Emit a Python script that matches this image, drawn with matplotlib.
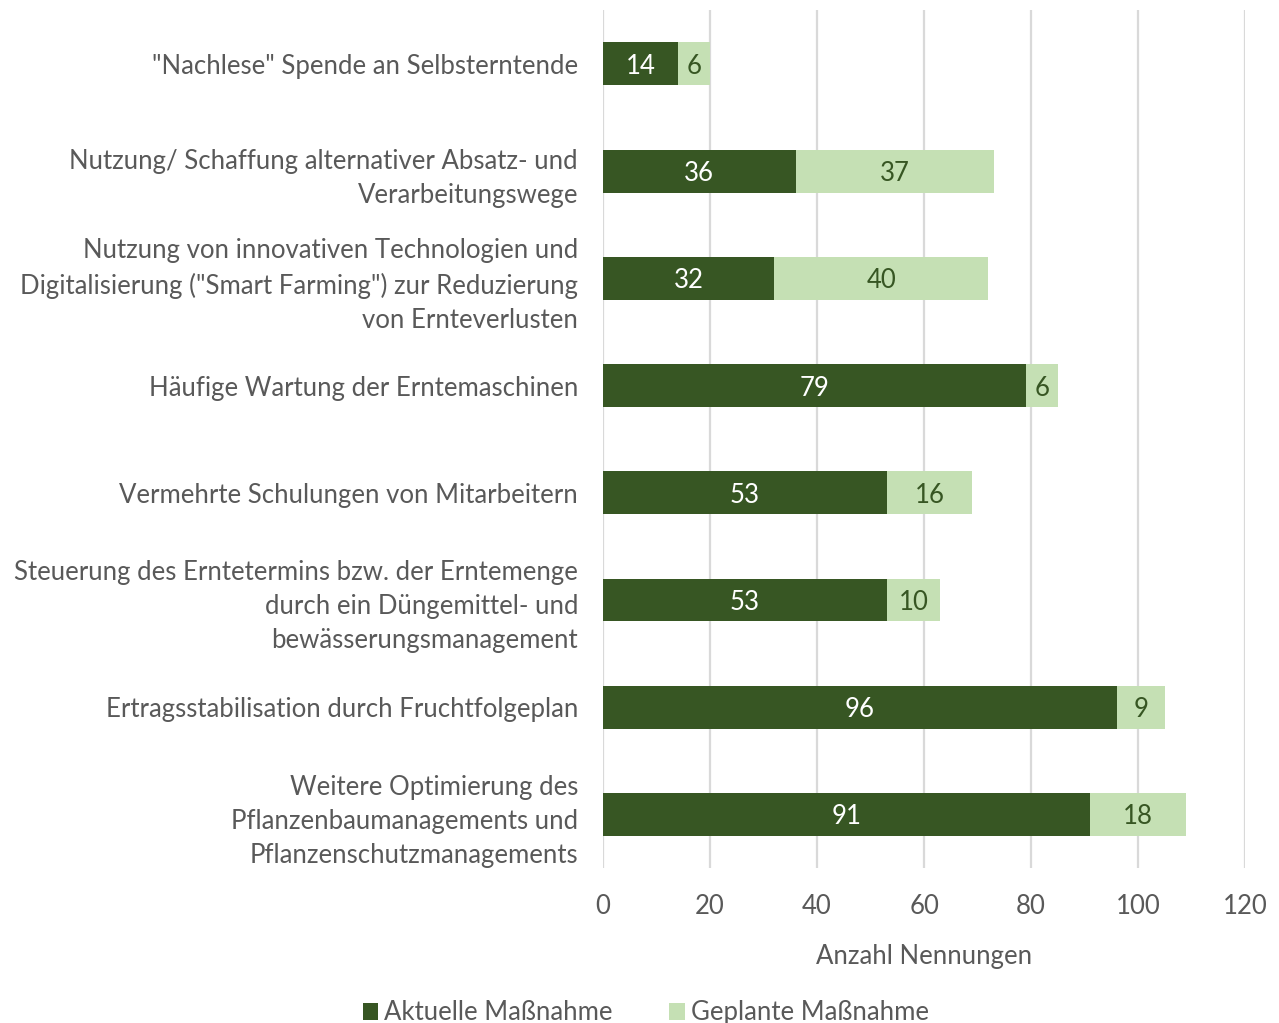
import matplotlib
matplotlib.use('Agg')
from matplotlib import pyplot as plt
import numpy as np

plt.rcParams['font.family'] = ['Lato', 'DejaVu Sans']

categories = [
    '"Nachlese" Spende an Selbsterntende',
    'Nutzung/ Schaffung alternativer Absatz- und\nVerarbeitungswege',
    'Nutzung von innovativen Technologien und\nDigitalisierung ("Smart Farming") zur Reduzierung\nvon Ernteverlusten',
    'Häufige Wartung der Erntemaschinen',
    'Vermehrte Schulungen von Mitarbeitern',
    'Steuerung des Erntetermins bzw. der Erntemenge\ndurch ein Düngemittel- und\nbewässerungsmanagement',
    'Ertragsstabilisation durch Fruchtfolgeplan',
    'Weitere Optimierung des\nPflanzenbaumanagements und\nPflanzenschutzmanagements',
]
aktuell = [14, 36, 32, 79, 53, 53, 96, 91]
geplant = [6, 37, 40, 6, 16, 10, 9, 18]
xticks = [0, 20, 40, 60, 80, 100, 120]

dark = '#375623'
light = '#C5E0B4'
grey = '#595959'
fs = 18.5

fig = plt.figure(figsize=(12.79, 10.23), dpi=100)
ax = fig.add_axes([0.4715, 0.1515, 0.502, 0.8385])

y = np.arange(len(categories))
b1 = ax.barh(y, aktuell, height=0.4, color=dark, label='Aktuelle Maßnahme', zorder=3)
b2 = ax.barh(y, geplant, left=aktuell, height=0.4, color=light, label='Geplante Maßnahme', zorder=3)

for i in range(len(y)):
    ax.text(aktuell[i] / 2, y[i], str(aktuell[i]), ha='center', va='center_baseline',
            color='white', fontsize=fs, zorder=4)
    ax.text(aktuell[i] + geplant[i] / 2, y[i], str(geplant[i]), ha='center', va='center_baseline',
            color=dark, fontsize=fs, zorder=4)

ax.set_ylim(len(categories) - 0.5, -0.5)
ax.set_xlim(0, 120)
ax.set_xticks(xticks)
ax.set_yticks(y)
ax.set_yticklabels(categories, fontsize=fs, color=grey, linespacing=1.45)
ax.tick_params(axis='x', labelsize=fs, labelcolor=grey, length=0, pad=19)
ax.tick_params(axis='y', length=0, pad=18)
ax.grid(axis='x', color='#d9d9d9', linewidth=1.6, zorder=0)
for s in ax.spines.values():
    s.set_visible(False)
ax.set_xlabel('Anzahl Nennungen', fontsize=fs, color=grey, labelpad=18)

fig.legend(handles=[b1, b2], loc='lower center', bbox_to_anchor=(0.505, -0.025), ncol=2,
           frameon=False, fontsize=fs, labelcolor=grey, handlelength=0.6, handleheight=0.6,
           handletextpad=0.25, columnspacing=2.2)

fig.savefig('out.png', dpi=100)
